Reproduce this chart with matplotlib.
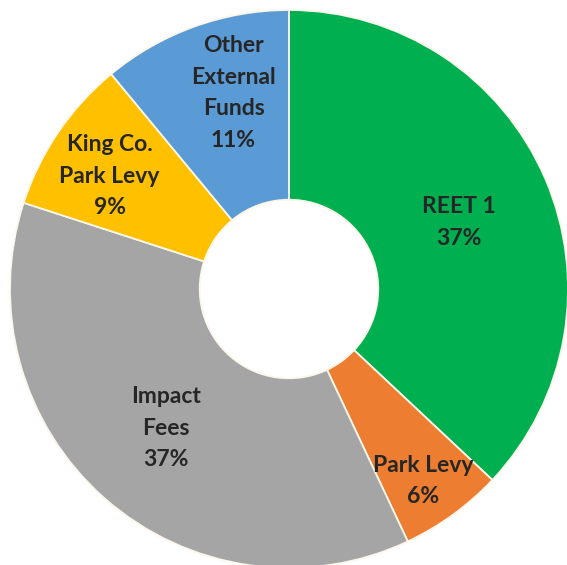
import matplotlib
matplotlib.use("Agg")
import matplotlib.pyplot as plt
import numpy as np

categories = ["REET 1", "Park Levy", "Impact\nFees", "King Co.\nPark Levy", "Other\nExternal\nFunds"]
values = [37, 6, 37, 9, 11]
colors = ["#00B050", "#ED7D31", "#A5A5A5", "#FFC000", "#5B9BD5"]
label_radius = [0.655, 0.84, 0.665, 0.76, 0.73]
label_angle_shift = [-2, -1, 0, 2, -4]

plt.rcParams['font.family'] = ['Lato', 'DejaVu Sans']

fig = plt.figure(figsize=(5.67, 5.65), dpi=100)
R_px = 279
cx, cy = 289, 565 - 289
ax = fig.add_axes([(cx - R_px) / 567, (cy - R_px) / 565, 2 * R_px / 567, 2 * R_px / 565])

hole = 0.32
wedges, _ = ax.pie(values, colors=colors, startangle=90, counterclock=False,
                   radius=1.0, wedgeprops=dict(width=1 - hole, edgecolor="#FBF7EA", linewidth=1.3))

total = sum(values)
for w, cat, v, r, da in zip(wedges, categories, values, label_radius, label_angle_shift):
    ang = np.deg2rad((w.theta1 + w.theta2) / 2 + da)
    x, y = r * np.cos(ang), r * np.sin(ang)
    ax.text(x, y, f"{cat}\n{round(100 * v / total)}%", ha="center", va="center",
            fontsize=16.5, fontweight="bold", color="#262626", linespacing=1.62)

ax.set_xlim(-1, 1)
ax.set_ylim(-1, 1)
ax.set_aspect("equal")
ax.axis("off")

fig.savefig("out.png", dpi=100)
